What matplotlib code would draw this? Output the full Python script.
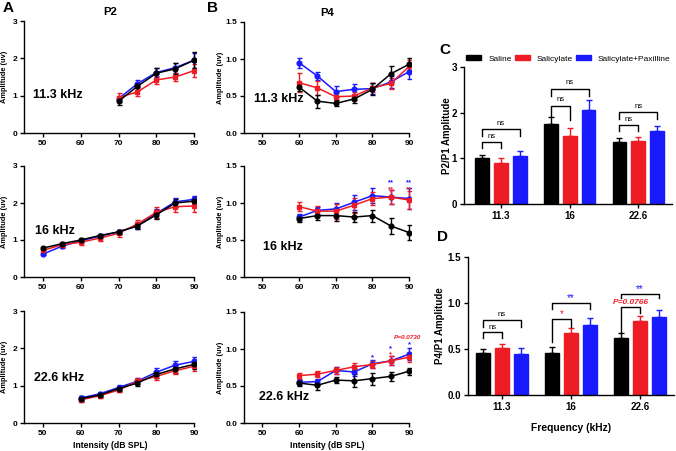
import numpy as np
import matplotlib
matplotlib.use('Agg')
import matplotlib.pyplot as plt

plt.rcParams['font.family'] = ['Liberation Sans', 'DejaVu Sans']
plt.rcParams['font.weight'] = 'bold'

BLACK = '#000000'
RED = '#ee1c24'
BLUE = '#1a1aff'

groups = ['Saline', 'Salicylate', 'Salicylate+Paxilline']
colors = [BLACK, RED, BLUE]

# ---- P2 amplitude vs intensity (panel A) ----
a_x = {'11.3': [70, 75, 80, 85, 90],
       '16': [50, 55, 60, 65, 70, 75, 80, 85, 90],
       '22.6': [60, 65, 70, 75, 80, 85, 90]}

a_saline = {'11.3': [0.85, 1.25, 1.6, 1.72, 1.95],
            '16': [0.78, 0.9, 1.0, 1.12, 1.22, 1.38, 1.68, 2.0, 2.05],
            '22.6': [0.65, 0.75, 0.92, 1.07, 1.3, 1.45, 1.57]}
a_saline_err = {'11.3': [0.1, 0.1, 0.15, 0.15, 0.22],
                '16': [0.04, 0.04, 0.05, 0.05, 0.06, 0.08, 0.12, 0.1, 0.1],
                '22.6': [0.06, 0.06, 0.06, 0.08, 0.1, 0.1, 0.12]}
a_sal = {'11.3': [0.95, 1.1, 1.42, 1.5, 1.67],
         '16': [0.72, 0.87, 0.94, 1.05, 1.18, 1.43, 1.75, 1.9, 1.92],
         '22.6': [0.62, 0.73, 0.88, 1.12, 1.25, 1.4, 1.52]}
a_sal_err = {'11.3': [0.12, 0.1, 0.12, 0.12, 0.18],
             '16': [0.05, 0.05, 0.07, 0.07, 0.09, 0.1, 0.15, 0.15, 0.15],
             '22.6': [0.06, 0.06, 0.06, 0.08, 0.1, 0.1, 0.12]}
a_pax = {'11.3': [0.92, 1.32, 1.62, 1.75, 1.95],
         '16': [0.62, 0.83, 0.98, 1.1, 1.22, 1.38, 1.72, 2.03, 2.1],
         '22.6': [0.67, 0.78, 0.95, 1.12, 1.36, 1.55, 1.65]}
a_pax_err = {'11.3': [0.08, 0.1, 0.12, 0.13, 0.2],
             '16': [0.03, 0.04, 0.04, 0.05, 0.06, 0.08, 0.12, 0.1, 0.1],
             '22.6': [0.06, 0.06, 0.06, 0.08, 0.1, 0.1, 0.12]}

# ---- P4 amplitude vs intensity (panel B) ----
b_x = [60, 65, 70, 75, 80, 85, 90]
b_saline = {'11.3': [0.62, 0.43, 0.4, 0.46, 0.59, 0.8, 0.93],
            '16': [0.79, 0.83, 0.83, 0.81, 0.83, 0.69, 0.6],
            '22.6': [0.54, 0.51, 0.58, 0.57, 0.6, 0.63, 0.7]}
b_saline_err = {'11.3': [0.05, 0.09, 0.04, 0.05, 0.08, 0.1, 0.08],
                '16': [0.05, 0.06, 0.07, 0.07, 0.08, 0.11, 0.1],
                '22.6': [0.04, 0.07, 0.04, 0.09, 0.08, 0.06, 0.05]}
b_sal = {'11.3': [0.68, 0.61, 0.49, 0.5, 0.61, 0.67, 0.9],
         '16': [0.95, 0.89, 0.89, 0.97, 1.06, 1.08, 1.04],
         '22.6': [0.64, 0.66, 0.71, 0.76, 0.79, 0.84, 0.89]}
b_sal_err = {'11.3': [0.13, 0.09, 0.06, 0.05, 0.06, 0.07, 0.08],
             '16': [0.06, 0.07, 0.1, 0.1, 0.09, 0.09, 0.12],
             '22.6': [0.04, 0.04, 0.05, 0.05, 0.05, 0.06, 0.06]}
b_pax = {'11.3': [0.95, 0.77, 0.56, 0.59, 0.6, 0.69, 0.83],
         '16': [0.81, 0.9, 0.92, 1.01, 1.1, 1.08, 1.06],
         '22.6': [0.55, 0.56, 0.71, 0.69, 0.8, 0.84, 0.93]}
b_pax_err = {'11.3': [0.07, 0.06, 0.07, 0.07, 0.07, 0.08, 0.1],
             '16': [0.04, 0.05, 0.08, 0.1, 0.1, 0.1, 0.14],
             '22.6': [0.03, 0.04, 0.05, 0.05, 0.05, 0.06, 0.08]}

freqs = ['11.3', '16', '22.6']

# ---- ratios (panels C, D) ----
c_means = [[1.0, 1.76, 1.35], [0.9, 1.48, 1.37], [1.06, 2.06, 1.6]]
c_errs = [[0.08, 0.14, 0.09], [0.1, 0.18, 0.1], [0.11, 0.21, 0.11]]
d_means = [[0.46, 0.46, 0.62], [0.51, 0.67, 0.8], [0.45, 0.76, 0.85]]
d_errs = [[0.035, 0.065, 0.05], [0.04, 0.06, 0.06], [0.065, 0.08, 0.07]]


def rect(l, t, r, b):
    return [l / 676, 1 - b / 451, (r - l) / 676, (b - t) / 451]


def style(ax, fs=6.0):
    for s in ['top', 'right']:
        ax.spines[s].set_visible(False)
    for s in ['left', 'bottom']:
        ax.spines[s].set_linewidth(1.0)
    ax.tick_params(width=1.0, length=3, labelsize=fs, pad=2)
    for lab in ax.get_xticklabels() + ax.get_yticklabels():
        lab.set_fontweight('bold')


fig = plt.figure(figsize=(6.76, 4.51), dpi=100)

a_rects = [(24, 21, 196, 133), (24, 166, 196, 277), (24, 311, 196, 423)]
b_rects = [(244, 22, 411, 133), (244, 166, 411, 277), (244, 312, 411, 423)]
a_lab = [(47.4, 1.02), (47.9, 1.25), (47.6, 1.21)]
b_lab = [(47.7, 0.46), (50.1, 0.405), (49.0, 0.355)]
ekw = dict(lw=1.1, elinewidth=1.0, capsize=1.8, capthick=1.0)

for i, f in enumerate(freqs):
    ax = fig.add_axes(rect(*a_rects[i]))
    xs = a_x[f]
    ax.errorbar(xs, a_pax[f], yerr=a_pax_err[f], color=BLUE, marker='o', ms=3.4, **ekw)
    ax.errorbar(xs, a_sal[f], yerr=a_sal_err[f], color=RED, marker='s', ms=3.2, **ekw)
    ax.errorbar(xs, a_saline[f], yerr=a_saline_err[f], color=BLACK, marker='o', ms=3.4, **ekw)
    ax.set_xlim(45, 90.5)
    ax.set_ylim(0, 3)
    ax.set_xticks([50, 60, 70, 80, 90])
    ax.set_yticks([0, 1, 2, 3])
    ax.spines['bottom'].set_bounds(45, 90)
    style(ax)
    ax.set_ylabel('Amplitude (uv)', fontsize=5.3, fontweight='bold')
    ax.yaxis.set_label_coords(-0.093, 0.5)
    ax.text(a_lab[i][0], a_lab[i][1], f + ' kHz', fontsize=9, fontweight='bold',
            ha='left', va='center')
    if i == 0:
        ax.set_title('P2', fontsize=8.2, fontweight='bold', pad=4)
    if i == 2:
        ax.set_xlabel('Intensity (dB SPL)', fontsize=6.2, fontweight='bold', labelpad=3)

    ax = fig.add_axes(rect(*b_rects[i]))
    ax.errorbar(b_x, b_pax[f], yerr=b_pax_err[f], color=BLUE, marker='o', ms=3.4, **ekw)
    ax.errorbar(b_x, b_sal[f], yerr=b_sal_err[f], color=RED, marker='s', ms=3.2, **ekw)
    ax.errorbar(b_x, b_saline[f], yerr=b_saline_err[f], color=BLACK, marker='o', ms=3.4, **ekw)
    ax.set_xlim(45, 90.5)
    ax.set_ylim(0, 1.5)
    ax.set_xticks([50, 60, 70, 80, 90])
    ax.set_yticks([0, 0.5, 1.0, 1.5])
    ax.set_yticklabels(['0.0', '0.5', '1.0', '1.5'])
    ax.spines['bottom'].set_bounds(45, 90)
    style(ax)
    ax.set_ylabel('Amplitude (uv)', fontsize=5.3, fontweight='bold')
    ax.yaxis.set_label_coords(-0.12, 0.5)
    ax.text(b_lab[i][0], b_lab[i][1], f + ' kHz', fontsize=9, fontweight='bold',
            ha='left', va='center')
    if i == 0:
        ax.set_title('P4', fontsize=8.2, fontweight='bold', pad=4)
    if i == 1:
        for xv in [85, 90]:
            ax.text(xv, 1.27, '**', color=BLUE, fontsize=5.5, ha='center', va='center')
            ax.text(xv, 1.18, '**', color=RED, fontsize=5.5, ha='center', va='center')
    if i == 2:
        ax.text(80, 0.88, '*', color=BLUE, fontsize=5.5, ha='center', va='center')
        ax.text(85, 1.01, '*', color=BLUE, fontsize=5.5, ha='center', va='center')
        ax.text(85, 0.92, '*', color=RED, fontsize=5.5, ha='center', va='center')
        ax.text(90, 1.06, '*', color=BLUE, fontsize=5.5, ha='center', va='center')
        ax.text(89.6, 1.15, 'P=0.0730', color=RED, fontsize=4.6, ha='center',
                va='center', style='italic')
        ax.set_xlabel('Intensity (dB SPL)', fontsize=6.2, fontweight='bold', labelpad=3)

# ---- bar panels ----
offs = [-0.275, 0.0, 0.275]
bw = 0.2
gx = np.arange(3)


def bars(ax, means, errs):
    for k in range(3):
        ax.bar(gx + offs[k], means[k], width=bw, color=colors[k], edgecolor=colors[k],
               label=groups[k], zorder=2)
        ax.errorbar(gx + offs[k], means[k], yerr=[np.zeros(3), errs[k]], fmt='none',
                    ecolor=colors[k], elinewidth=1.0, capsize=2.4, capthick=1.0, zorder=1)


def bracket(ax, g, k2, top, lleg, rleg, txt, tcol, ty, fs=5.6):
    x1 = g + offs[0]
    x2 = g + offs[k2]
    ax.plot([x1, x1, x2, x2], [lleg, top, top, rleg], color='black', lw=1.0)
    return ax.text((x1 + x2) / 2, ty, txt, color=tcol, fontsize=fs, ha='center',
                   va='center', fontweight='normal')


axc = fig.add_axes(rect(464, 67, 672, 204))
bars(axc, c_means, c_errs)
axc.set_xlim(-0.54, 2.49)
axc.set_ylim(0, 3)
axc.set_xticks(gx)
axc.set_xticklabels(freqs)
axc.set_yticks([0, 1, 2, 3])
style(axc, fs=7)
axc.set_ylabel('P2/P1 Amplitude', fontsize=7, fontweight='bold')
axc.yaxis.set_label_coords(-0.06, 0.5)
bracket(axc, 0, 1, 1.35, 1.23, 1.23, 'ns', BLACK, 1.47)
bracket(axc, 0, 2, 1.64, 1.5, 1.5, 'ns', BLACK, 1.76)
bracket(axc, 1, 1, 2.15, 1.93, 1.85, 'ns', BLACK, 2.28)
bracket(axc, 1, 2, 2.52, 2.36, 2.36, 'ns', BLACK, 2.65)
bracket(axc, 2, 1, 1.74, 1.59, 1.59, 'ns', BLACK, 1.85)
bracket(axc, 2, 2, 2.02, 1.86, 1.86, 'ns', BLACK, 2.14)
leg = axc.legend(loc='lower left', bbox_to_anchor=(0.012, 1.03), ncol=3, frameon=False,
                 handlelength=1.8, handleheight=0.55, handletextpad=0.85,
                 columnspacing=0.35, borderaxespad=0.0, borderpad=0.0,
                 prop={'size': 6.0, 'weight': 'normal'})

axd = fig.add_axes(rect(468, 257, 674, 395))
bars(axd, d_means, d_errs)
axd.set_xlim(-0.49, 2.49)
axd.set_ylim(0, 1.5)
axd.set_xticks(gx)
axd.set_xticklabels(freqs)
axd.set_yticks([0, 0.5, 1.0, 1.5])
axd.set_yticklabels(['0.0', '0.5', '1.0', '1.5'])
style(axd, fs=7)
axd.set_ylabel('P4/P1 Amplitude', fontsize=7, fontweight='bold')
axd.yaxis.set_label_coords(-0.114, 0.5)
axd.set_xlabel('Frequency (kHz)', fontsize=7.4, fontweight='bold', labelpad=8)
bracket(axd, 0, 1, 0.68, 0.62, 0.62, 'ns', BLACK, 0.735)
bracket(axd, 0, 2, 0.82, 0.74, 0.74, 'ns', BLACK, 0.875)
bracket(axd, 1, 1, 0.83, 0.58, 0.74, '*', RED, 0.875, fs=7)
bracket(axd, 1, 2, 1.0, 0.93, 0.93, '**', BLUE, 1.05, fs=7)
t = bracket(axd, 2, 1, 0.96, 0.69, 0.89, 'P=0.0766', RED, 1.005, fs=6)
t.set_fontweight('bold')
t.set_style('italic')
bracket(axd, 2, 2, 1.1, 1.05, 1.05, '**', BLUE, 1.155, fs=7)

# panel letters
for s, x, y in [('A', 8, 8), ('B', 212, 8), ('C', 445, 50), ('D', 443, 237)]:
    fig.text(x / 676, 1 - y / 451, s, fontsize=11, fontweight='bold', ha='center', va='center')

fig.savefig('out.png', dpi=100)
